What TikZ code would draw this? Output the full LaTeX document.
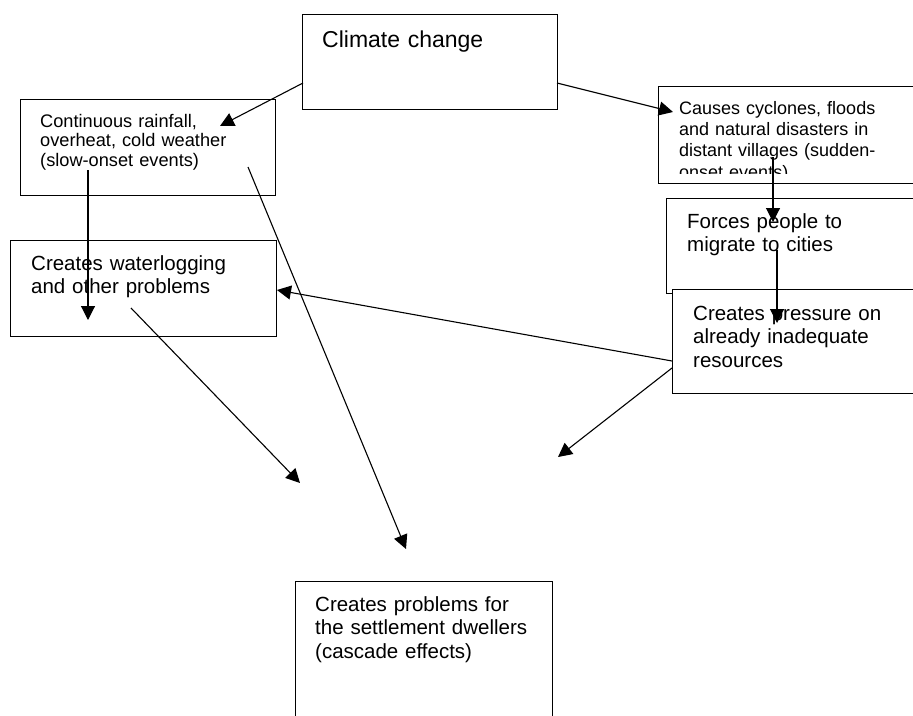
\documentclass[tikz,border=0pt]{standalone}
\usepackage{fontspec}
\setmainfont{Liberation Sans}
\usetikzlibrary{arrows.meta}
\tikzset{
  box/.style={draw=black, fill=white, line width=1.3pt, inner sep=0pt, anchor=north west},
  lbl/.style={anchor=base west, inner sep=0pt, text width=#1, align=left},
  arr/.style={line width=1.1pt, -{Triangle[length=14pt,width=14pt]}},
  fbig/.style={font=\fontsize{20.5}{23.5}\selectfont},
  fsmall/.style={font=\fontsize{18.2}{19.7}\selectfont},
  fcause/.style={font=\fontsize{18}{21.4}\selectfont},
  ftitle/.style={font=\fontsize{23}{27}\selectfont}
}
\begin{document}
\begin{tikzpicture}[x=1pt,y=-1pt]
\useasboundingbox (0,0) rectangle (913,715);
\clip (0,0) rectangle (913,715);
% boxes
\node[box, minimum width=255pt, minimum height=95pt] (climate) at (302,14) {};
\node[lbl=230pt, ftitle] (climatet) at (322,47) {Climate change};

\node[box, minimum width=255pt, minimum height=96pt] (cont) at (20,99) {};
\node[lbl=230pt, fsmall] (contt) at (40,127) {Continuous rainfall,\\overheat, cold weather\\(slow-onset events)};

\node[box, minimum width=266pt, minimum height=96pt] (water) at (10,240) {};
\node[lbl=240pt, fbig] (watert) at (31,270) {Creates waterlogging\\and other problems};

\node[box, minimum width=280pt, minimum height=97pt] (causes) at (658,86) {};
\begin{scope}
\clip (658,86) rectangle (940,173);
\node[lbl=240pt, fcause] (causest) at (679,114) {Causes cyclones, floods\\and natural disasters in\\distant villages (sudden-\\onset events)};
\end{scope}

\node[box, minimum width=280pt, minimum height=95pt] (forces) at (666,198) {};
\node[lbl=230pt, fbig] (forcest) at (687,228) {Forces people to\\migrate to cities};

\node[box, minimum width=280pt, minimum height=104pt] (pressure) at (672,289) {};
\node[lbl=230pt, fbig] (pressuret) at (693,320) {Creates pressure on\\already inadequate\\resources};

\node[box, minimum width=257pt, minimum height=160pt] (bottom) at (295,581) {};
\node[lbl=230pt, fbig] (bottomt) at (315,611) {Creates problems for\\the settlement dwellers\\(cascade effects)};

% connector end points
\coordinate (climL) at (303,83);
\coordinate (climR) at (557,83);
\coordinate (contTip) at (220,126);
\coordinate (causesTip) at (673,112);
\coordinate (causesS) at (773,157);
\coordinate (forcesTip) at (773,222);
\coordinate (forcesS) at (777,250);
\coordinate (pressTip) at (777,323);
\coordinate (contS1) at (88,170);
\coordinate (waterTip) at (88,320);
\coordinate (contS2) at (248,167);
\coordinate (bottomTip) at (406,549);
\coordinate (pressS1) at (672,361);
\coordinate (waterTip2) at (277,290);
\coordinate (waterS) at (131,308);
\coordinate (freeL) at (300,483);
\coordinate (pressS2) at (672,368);
\coordinate (freeR) at (558,457);

% connectors
\draw[arr] (climL) -- (contTip);
\draw[arr] (climR) -- (causesTip);
\draw[arr] (causesS) -- (forcesTip);
\draw[arr] (forcesS) -- (pressTip);
\draw[arr] (contS1) -- (waterTip);
\draw[arr] (contS2) -- (bottomTip);
\draw[arr] (pressS1) -- (waterTip2);
\draw[arr] (waterS) -- (freeL);
\draw[arr] (pressS2) -- (freeR);
\end{tikzpicture}
\end{document}
